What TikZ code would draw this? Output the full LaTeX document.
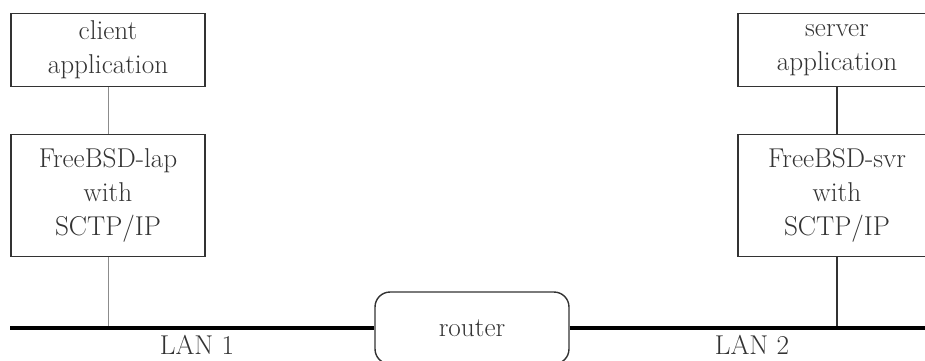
\documentclass[tikz,border=0pt]{standalone}
\usepackage{tikz}
\usetikzlibrary{positioning, calc}

\begin{document}
\begin{tikzpicture}[
    x=0.02cm, y=-0.02cm,
    box/.style={draw=black!80, line width=0.8pt, align=center,
                text=black!80, font=\fontsize{15.5}{19.4}\selectfont},
    lan/.style={line width=2.8pt, black},
    lbl/.style={text=black!80, font=\fontsize{15.5}{19.4}\selectfont}
  ]
  \useasboundingbox (0,0) rectangle (925,360);
  \begin{scope}
  \clip (0,0) rectangle (925,360);

  % Hosts: application box over the stack box
  \foreach \h/\x/\w/\app/\os/\c/\lw in {
    cli/108/3.88/client/lap/black!45/0.5pt,
    srv/837/3.96/server/svr/black!80/1.1pt} {
    \node[box, minimum width=\w cm, minimum height=1.47cm]
      (\h app) at (\x, 50) {\app\\application};
    \node[box, minimum width=\w cm, minimum height=2.45cm]
      (\h os) at (\x, 195.5) {FreeBSD-\os\\with\\SCTP/IP};
    \coordinate (\h tap) at (\x, 328);
    \draw[\c, line width=\lw] (\h app) -- (\h os);
    \draw[\c, line width=\lw] (\h os) -- (\h tap);
  }

  % Router between the two LANs
  \node[box, rounded corners=0.3cm, minimum width=3.88cm,
        minimum height=1.44cm] (router) at (472, 328) {router};
  \coordinate (lanL) at (10, 328);
  \coordinate (lanR) at (930, 328);
  \draw[lan] (lanL) -- (router.west);
  \draw[lan] (router.east) -- (lanR);
  \end{scope}

  \node[lbl] (lan1) at (197, 345) {LAN 1};
  \node[lbl] (lan2) at (752, 345) {LAN 2};
\end{tikzpicture}
\end{document}
